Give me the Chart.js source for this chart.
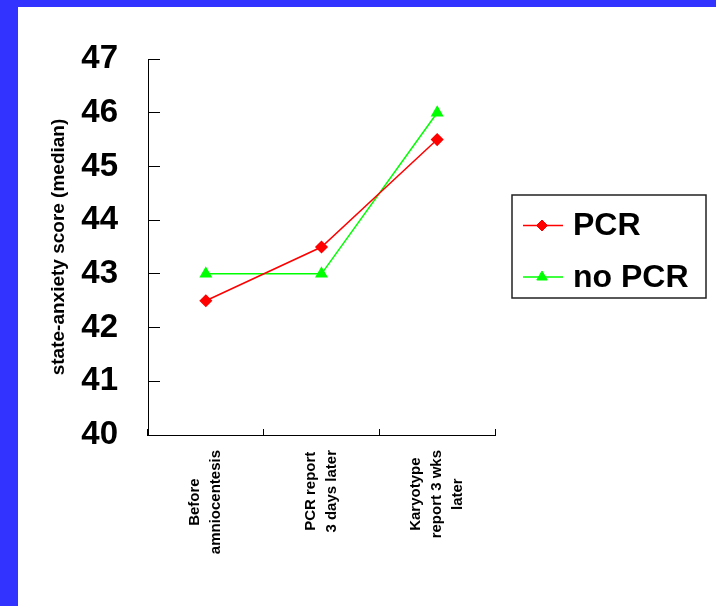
<!DOCTYPE html>
<html>
<head>
<meta charset="utf-8">
<script src="https://cdn.jsdelivr.net/npm/chart.js@4.4.1/dist/chart.umd.min.js"></script>
<style>
  html, body { margin: 0; padding: 0; background: #3333ff; width: 716px; height: 606px; overflow: hidden; }
  #frame { position: absolute; left: 18px; top: 7px; width: 698px; height: 599px; background: #ffffff; }
  canvas { display: block; }
</style>
</head>
<body>
<div id="frame"><canvas id="chart" width="698" height="599"></canvas></div>
<script>
// Time points (multi-line category labels)
const categories = [
  ["Before", "amniocentesis"],
  ["PCR report", "3 days later"],
  ["Karyotype", "report 3 wks", "later"]
];
// Median state-anxiety scores per group
const pcrScores = [42.5, 43.5, 45.5];
const noPcrScores = [43, 43, 46];
// Y axis tick values
const yTicks = [40, 41, 42, 43, 44, 45, 46, 47];
const seriesNames = ["PCR", "no PCR"];

const FONT = '"Liberation Sans", Arial, Helvetica, sans-serif';

// Category labels drawn rotated, lines centred on each other
const rotatedLabels = {
  id: 'rotatedLabels',
  afterDraw(chart) {
    const ctx = chart.ctx;
    const xs = chart.scales.x;
    const anchorY = chart.chartArea.bottom + 15;
    const lineGap = 21;
    ctx.save();
    ctx.font = 'bold 15px ' + FONT;
    ctx.fillStyle = '#000';
    ctx.textAlign = 'center';
    ctx.textBaseline = 'middle';
    categories.forEach((lines, i) => {
      const x = xs.getPixelForValue(i);
      const maxW = Math.max(...lines.map(l => ctx.measureText(l).width));
      ctx.save();
      ctx.translate(x, anchorY);
      ctx.rotate(-Math.PI / 2);
      lines.forEach((line, j) => {
        const off = (j - (lines.length - 1) / 2) * lineGap;
        ctx.fillText(line, -maxW / 2, off);
      });
      ctx.restore();
    });
    ctx.restore();
  }
};

// Boxed legend with line + marker samples
const boxedLegend = {
  id: 'boxedLegend',
  afterDraw(chart) {
    const ctx = chart.ctx;
    const box = { left: 494, top: 188, right: 688, bottom: 291 };
    ctx.save();
    ctx.strokeStyle = '#222';
    ctx.lineWidth = 1.5;
    ctx.strokeRect(box.left, box.top, box.right - box.left, box.bottom - box.top);
    const rows = [218.5, 270];
    chart.data.datasets.forEach((ds, i) => {
      const y = rows[i];
      ctx.strokeStyle = ds.borderColor;
      ctx.lineWidth = 1.5;
      ctx.beginPath();
      ctx.moveTo(505, y);
      ctx.lineTo(545, y);
      ctx.stroke();
      ctx.fillStyle = ds.pointBackgroundColor;
      ctx.strokeStyle = ds.pointBorderColor;
      ctx.lineWidth = 1;
      Chart.helpers.drawPoint(ctx, {
        pointStyle: ds.pointStyle,
        radius: ds.pointRadius,
        borderWidth: 1
      }, 524, y);
      ctx.font = 'bold 32px ' + FONT;
      ctx.fillStyle = '#000';
      ctx.textAlign = 'left';
      ctx.textBaseline = 'middle';
      ctx.fillText(ds.label, 555, y + 1);
    });
    ctx.restore();
  }
};

new Chart(document.getElementById('chart'), {
  type: 'line',
  data: {
    labels: categories.map(c => c.join(' ')),
    datasets: [
      {
        label: seriesNames[0],
        data: pcrScores,
        borderColor: '#ff0000',
        backgroundColor: '#ff0000',
        pointBackgroundColor: '#ff0000',
        pointBorderColor: '#ff0000',
        pointStyle: 'rectRot',
        pointRadius: 5.5,
        borderWidth: 1.5,
        tension: 0
      },
      {
        label: seriesNames[1],
        data: noPcrScores,
        borderColor: '#00ff00',
        backgroundColor: '#00ff00',
        pointBackgroundColor: '#00ff00',
        pointBorderColor: '#00ff00',
        pointStyle: 'triangle',
        pointRadius: 6,
        borderWidth: 1.5,
        tension: 0
      }
    ]
  },
  options: {
    responsive: false,
    animation: false,
    events: [],
    layout: { padding: { left: 25, top: 52, right: 221, bottom: 0 } },
    plugins: {
      legend: { display: false },
      tooltip: { enabled: false }
    },
    scales: {
      x: {
        type: 'category',
        offset: true,
        grid: {
          offset: true,
          drawOnChartArea: false,
          drawTicks: true,
          tickLength: -6,
          color: '#000',
          lineWidth: 1
        },
        border: { color: '#000', width: 1 },
        ticks: { display: false },
        afterFit(scale) {
          scale.height = 171;
          scale.paddingLeft = 0;
          scale.paddingRight = 0;
        }
      },
      y: {
        min: 40,
        max: 47,
        afterBuildTicks(scale) { scale.ticks = yTicks.map(v => ({ value: v })); },
        grid: {
          drawOnChartArea: false,
          drawTicks: true,
          tickLength: -12,
          color: '#000',
          lineWidth: 1
        },
        border: { color: '#000', width: 1 },
        ticks: {
          color: '#000',
          padding: 42,
          font: { family: FONT, size: 33, weight: 'bold' }
        },
        title: {
          display: true,
          text: 'state-anxiety score (median)',
          color: '#000',
          font: { family: FONT, size: 19, weight: 'bold' },
          padding: { top: 4, bottom: 4 }
        },
        afterFit(scale) {
          scale.width = 105;
          scale.paddingTop = 0;
          scale.paddingBottom = 0;
        }
      }
    }
  },
  plugins: [rotatedLabels, boxedLegend]
});
</script>
</body>
</html>
